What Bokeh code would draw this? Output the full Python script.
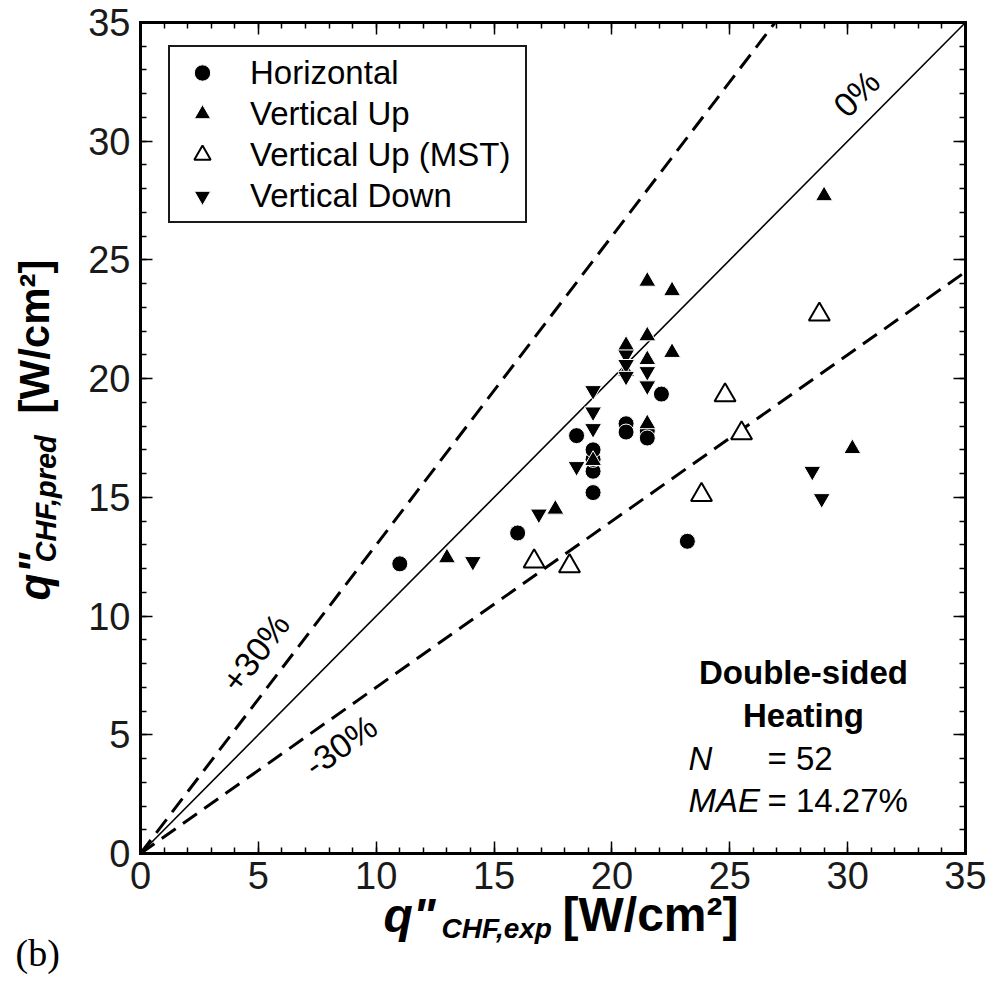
import math
from bokeh.plotting import figure
from bokeh.models import Range1d, LinearAxis, Label, Legend, LegendItem, FixedTicker
from bokeh.embed import file_html
from bokeh.resources import INLINE

# ---------------- data ----------------
horiz_x = [11.0, 16.0, 19.2, 19.2, 19.2, 19.2, 18.5, 20.6, 20.6, 21.5, 21.5, 22.1, 23.2]
horiz_y = [12.2, 13.5, 15.2, 16.1, 16.6, 17.0, 17.6, 18.1, 17.75, 17.8, 17.5, 19.35, 13.15]

vup_x = [13.0, 17.6, 19.2, 20.6, 20.6, 21.5, 21.5, 21.5, 22.55, 22.55, 21.5, 29.0, 30.2]
vup_y = [12.45, 14.5, 16.55, 21.4, 20.3, 24.1, 21.8, 20.8, 23.7, 21.1, 18.1, 27.7, 17.05]

mst_x = [16.7, 18.2, 23.8, 24.8, 25.5, 28.8]
mst_y = [12.3, 12.1, 15.1, 19.3, 17.7, 22.7]

vdown_x = [14.1, 16.9, 18.5, 19.2, 19.2, 19.2, 20.6, 20.6, 20.6, 21.5, 21.5, 28.5, 28.9]
vdown_y = [12.3, 14.3, 16.3, 19.5, 18.6, 17.9, 21.0, 20.6, 20.1, 20.3, 19.7, 16.1, 14.95]

axis_min, axis_max = 0, 35
ref_pcts = [0, 30, -30]
major_ticks = [0, 5, 10, 15, 20, 25, 30, 35]
minor_ticks = list(range(0, 36))

F = "Liberation Sans"

# ---------------- geometry (canvas px) ----------------
W, H = 990, 976
BOX_L, BOX_R = 140, 965      # chart box edges (px)
BOX_T, BOX_B = 22, 853
SX = (BOX_R - BOX_L) / (axis_max - axis_min)
SY = (BOX_B - BOX_T) / (axis_max - axis_min)

def dx(px):
    return axis_min + (px - BOX_L) / SX

def dy(py):
    return axis_min + (BOX_B - py) / SY

p = figure(width=W, height=H,
           x_range=Range1d(dx(0), dx(W)), y_range=Range1d(dy(H), dy(0)),
           x_axis_location=None, y_axis_location=None,
           output_backend="svg", toolbar_location=None,
           min_border=0, min_border_left=0, min_border_right=0,
           min_border_top=0, min_border_bottom=0)
p.grid.visible = False
p.outline_line_color = None
p.background_fill_color = "white"
p.border_fill_color = "white"

ax_b = LinearAxis(fixed_location=axis_min)
ax_l = LinearAxis(fixed_location=axis_min)
ax_t = LinearAxis(fixed_location=axis_max)
ax_r = LinearAxis(fixed_location=axis_max)
p.add_layout(ax_b, "below")
p.add_layout(ax_l, "left")
p.add_layout(ax_t, "above")
p.add_layout(ax_r, "right")

for ax in (ax_b, ax_l, ax_t, ax_r):
    ax.bounds = (axis_min, axis_max)
    ax.ticker = FixedTicker(ticks=major_ticks, minor_ticks=minor_ticks)
    ax.major_tick_in = 12
    ax.major_tick_out = 0
    ax.minor_tick_in = 6
    ax.minor_tick_out = 0
    ax.major_tick_line_width = 1.5
    ax.minor_tick_line_width = 1.5
    ax.major_tick_line_color = "black"
    ax.minor_tick_line_color = "black"
    ax.axis_line_width = 3
    ax.axis_line_color = "black"
    ax.axis_line_cap = "square"
    ax.major_label_text_font = F
    ax.major_label_text_font_size = "38px"
    ax.major_label_text_color = "#1a1a1a"

for ax in (ax_t, ax_r):
    ax.major_label_text_font_size = "0px"
    ax.major_label_text_color = None
    ax.major_label_standoff = 0

ax_b.major_label_standoff = 8
ax_l.major_label_standoff = 10

# ---------------- reference lines ----------------
for pct in ref_pcts:
    k = 1 + pct / 100.0
    xe = min(axis_max, axis_max / k)
    xs = [0, xe]
    ys = [0, xe * k]
    if pct == 0:
        p.line(xs, ys, line_color="black", line_width=1.6)
    else:
        p.line(xs, ys, line_color="black", line_width=3, line_dash="17 9")

# ---------------- markers ----------------
r_h = p.scatter(horiz_x, horiz_y, marker="circle", size=16, fill_color="black",
                line_color="white", line_width=1)
r_u = p.scatter(vup_x, vup_y, marker="triangle", size=17, fill_color="black",
                line_color="white", line_width=1)
r_m = p.scatter(mst_x, mst_y, marker="triangle", size=21, fill_color="white",
                line_color="black", line_width=2)
r_d = p.scatter(vdown_x, vdown_y, marker="inverted_triangle", size=17, fill_color="black",
                line_color="white", line_width=1)

LEG_L, LEG_B = 168, 223
legend = Legend(items=[LegendItem(label="Horizontal", renderers=[r_h]),
                       LegendItem(label="Vertical Up", renderers=[r_u]),
                       LegendItem(label="Vertical Up (MST)", renderers=[r_m]),
                       LegendItem(label="Vertical Down", renderers=[r_d])],
                location=(LEG_L, H - LEG_B), padding=5, spacing=0,
                glyph_width=54, glyph_height=41, label_height=41, label_width=270,
                label_standoff=21,
                label_text_font=F, label_text_font_size="33px",
                label_text_color="black",
                border_line_color="#1a1a1a", border_line_width=2, border_line_alpha=1,
                background_fill_color="white", background_fill_alpha=1)
p.add_layout(legend)

def lab(x, y, text, size, style="normal", align="left", angle=0.0, font=F):
    p.add_layout(Label(x=x, y=y, text=text, text_font=font, text_font_size=size,
                       text_font_style=style, text_align=align, text_baseline="middle",
                       angle=angle, text_color="black"))

# line labels
a0 = math.atan2(SY, SX)
lab(dx(856), dy(93), "0%", "34px", align="center", angle=a0)
a30 = math.atan2(1.3 * SY, SX)
lab(dx(255), dy(652), "+30%", "34px", align="center", angle=a30)
am30 = math.atan2(0.7 * SY, SX)
lab(dx(340), dy(745), "-30%", "34px", align="center", angle=am30)

# annotation text
lab(dx(803), dy(672), "Double-sided", "33px", style="bold", align="center")
lab(dx(803), dy(715), "Heating", "33px", style="bold", align="center")
lab(dx(688), dy(758), "N", "33px", style="italic")
lab(dx(767), dy(758), "= 52", "33px")
lab(dx(688), dy(800), "MAE", "33px", style="italic")
lab(dx(767), dy(800), "= 14.27%", "33px")

# x-axis title
lab(dx(383), dy(915), 'q"', "48px", style="bold italic")
lab(dx(441), dy(928), "CHF,exp", "28px", style="bold italic")
lab(dx(562), dy(914), "[W/cm²]", "48px", style="bold")

# y-axis title (rotated)
vert = math.pi / 2
lab(dx(34), dy(600), 'q"', "44px", style="bold italic", angle=vert)
lab(dx(45), dy(562), "CHF,pred", "29px", style="bold italic", angle=vert)
lab(dx(34), dy(413), "[W/cm²]", "42px", style="bold", angle=vert)

# panel tag
lab(dx(15), dy(952), "(b)", "38px", font="Liberation Serif")

open("out.html", "w").write(file_html(p, INLINE))
